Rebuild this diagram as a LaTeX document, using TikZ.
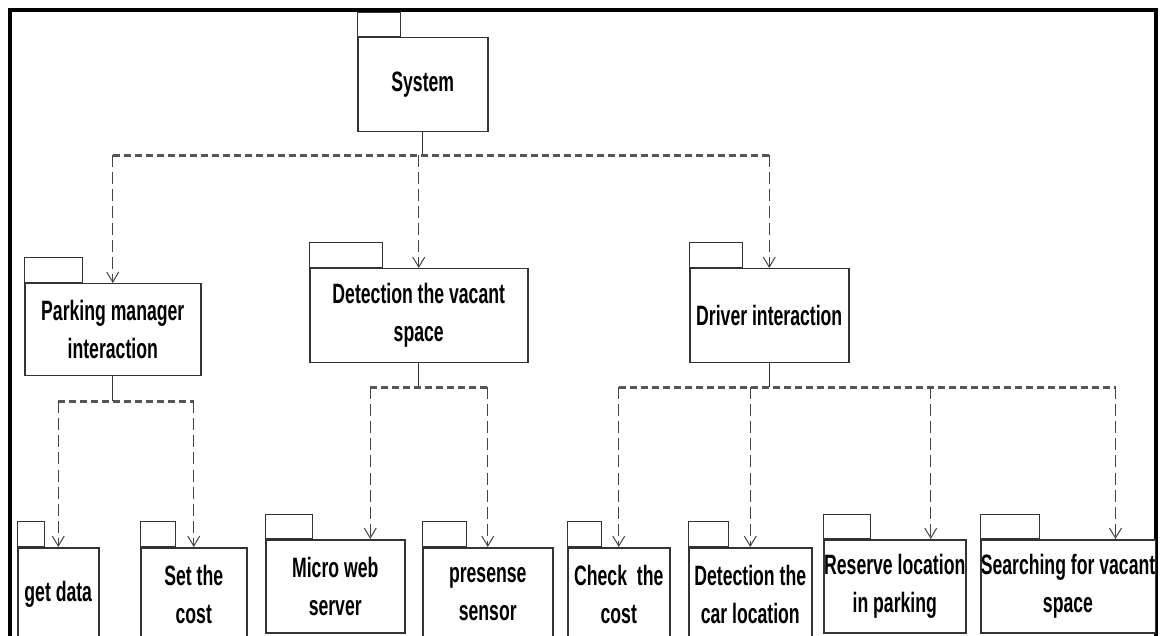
\documentclass[tikz,border=0pt]{standalone}
\usepackage{fontspec}
\setmainfont{Liberation Sans}[FakeStretch=0.63]
\usetikzlibrary{arrows.meta}
\definecolor{linegray}{HTML}{333333}
\definecolor{busgray}{HTML}{555555}
\definecolor{depgray}{HTML}{444444}
\newcommand{\pkgfont}{\fontsize{28}{38}\selectfont\bfseries}
\tikzset{
  pkgbox/.style={draw=linegray, line width=1.5pt, fill=white, inner sep=0pt,
    align=center, font=\pkgfont, text=black, anchor=north west},
  pkgtab/.style={draw=linegray, line width=1.3pt, inner sep=0pt, anchor=south west},
  stem/.style={draw=linegray, line width=1.2pt},
  bus/.style={draw=busgray, line width=2.2pt, dash pattern=on 7pt off 4pt},
  dep/.style={draw=depgray, line width=1pt, dash pattern=on 12pt off 5pt,
    -{Straight Barb[length=10pt,width=12pt,line width=1pt]}},
}
\begin{document}
\begin{tikzpicture}[x=1pt, y=-1pt]
\useasboundingbox (0,0) rectangle (1163,636);
\clip (0,0) rectangle (1163,636);

% outer frame
\draw[line width=4pt] (10,10.5) rectangle (1156,700);

% top package
\node[pkgbox, minimum width=130pt, minimum height=94pt] (sys) at (357,37) {System};
\node[pkgtab, minimum width=43pt, minimum height=24pt] at (sys.north west) {};

% second level
\node[pkgbox, minimum width=176pt, minimum height=92pt] (park) at (24,283) {Parking manager\\interaction};
\node[pkgtab, minimum width=58pt, minimum height=25pt] at (park.north west) {};
\node[pkgbox, minimum width=218pt, minimum height=94pt] (det) at (309,268) {Detection the vacant\\space};
\node[pkgtab, minimum width=73pt, minimum height=25pt] at (det.north west) {};
\node[pkgbox, minimum width=159pt, minimum height=94pt] (drv) at (689,268) {Driver interaction};
\node[pkgtab, minimum width=53pt, minimum height=25pt] at (drv.north west) {};

% third level
\node[pkgbox, minimum width=81pt, minimum height=93pt] (getd) at (17,547) {get data};
\node[pkgtab, minimum width=27pt, minimum height=25pt] at (getd.north west) {};
\node[pkgbox, minimum width=106pt, minimum height=93pt] (setc) at (140,547) {Set the\\cost};
\node[pkgtab, minimum width=35pt, minimum height=25pt] at (setc.north west) {};
\node[pkgbox, minimum width=139pt, minimum height=93pt] (micro) at (265,539) {Micro web\\server};
\node[pkgtab, minimum width=47pt, minimum height=24pt] at (micro.north west) {};
\node[pkgbox, minimum width=130pt, minimum height=93pt] (pres) at (422,547) {presense\\sensor};
\node[pkgtab, minimum width=44pt, minimum height=25pt] at (pres.north west) {};
\node[pkgbox, minimum width=102pt, minimum height=93pt] (chk) at (567,547) {Check\ \ the\\cost};
\node[pkgtab, minimum width=34pt, minimum height=25pt] at (chk.north west) {};
\node[pkgbox, minimum width=123pt, minimum height=93pt] (carl) at (688,547) {Detection the\\car location};
\node[pkgtab, minimum width=40pt, minimum height=25pt] at (carl.north west) {};
\node[pkgbox, minimum width=142pt, minimum height=93pt] (resv) at (823,539) {Reserve location\\in parking};
\node[pkgtab, minimum width=47pt, minimum height=24pt] at (resv.north west) {};
\node[pkgbox, minimum width=171pt, minimum height=93pt] (srch) at (980,539) {Searching for vacant\\space};
\node[pkgtab, minimum width=59pt, minimum height=24pt] at (srch.north west) {};

% junction points below each parent
\path (sys.south) ++(0,23) coordinate (sysj);
\path (park.south) ++(0,25) coordinate (parkj);
\path (det.south) ++(0,24) coordinate (detj);
\path (drv.south) ++(0,24) coordinate (drvj);

% System -> second level
\draw[stem] (sys.south) -- (sysj);
\draw[bus] (park.north |- sysj) -- (drv.north |- sysj);
\draw[dep] (park.north |- sysj) -- (park.north);
\draw[dep] (det.north |- sysj) -- (det.north);
\draw[dep] (drv.north |- sysj) -- (drv.north);

% Parking manager -> children
\draw[stem] (park.south) -- (parkj);
\draw[bus] (getd.north |- parkj) -- (setc.north |- parkj);
\draw[dep] (getd.north |- parkj) -- (getd.north);
\draw[dep] (setc.north |- parkj) -- (setc.north);

% Detection -> children
\draw[stem] (det.south) -- (detj);
\draw[bus] ([xshift=35pt]micro.north |- detj) -- (pres.north |- detj);
\draw[dep] ([xshift=35pt]micro.north |- detj) -- ([xshift=35pt]micro.north);
\draw[dep] (pres.north |- detj) -- (pres.north);

% Driver -> children
\draw[stem] (drv.south) -- (drvj);
\draw[bus] (chk.north |- drvj) -- ([xshift=47.5pt]srch.north |- drvj);
\draw[dep] (chk.north |- drvj) -- (chk.north);
\draw[dep] (carl.north |- drvj) -- (carl.north);
\draw[dep] ([xshift=36pt]resv.north |- drvj) -- ([xshift=36pt]resv.north);
\draw[dep] ([xshift=47.5pt]srch.north |- drvj) -- ([xshift=47.5pt]srch.north);
\end{tikzpicture}
\end{document}
